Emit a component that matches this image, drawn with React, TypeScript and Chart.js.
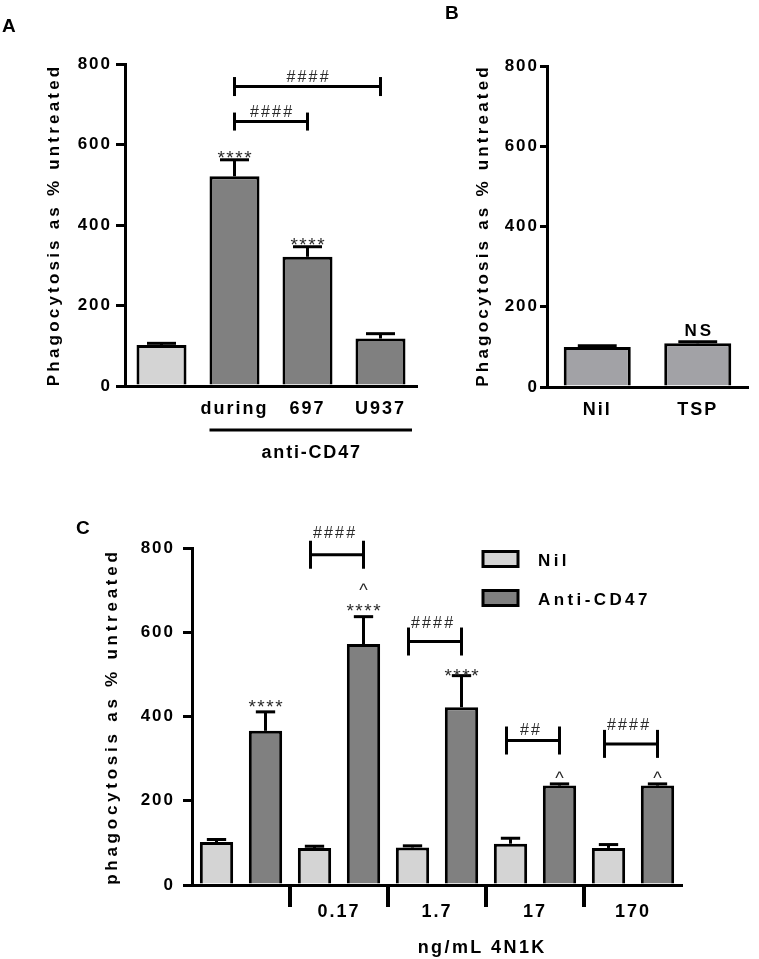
import React, { useEffect, useRef } from 'react';
import { Chart, registerables } from 'chart.js';
Chart.register(...registerables);

const FONT = '"Liberation Sans", Arial, Helvetica, sans-serif';

// ---------- data ----------
const yTickValues = [0, 200, 400, 600, 800];

const aCategories = ['', 'during', '697', 'U937'];
const aValues = [102, 521, 321, 118];
const aErrors = [4, 41, 25, 12];

const bCategories = ['Nil', 'TSP'];
const bValues = [100, 109];
const bErrors = [3, 4];

const cCategories = ['', '0.17', '1.7', '17', '170'];
const cSeriesNames = ['Nil', 'Anti-CD47'];
const cNilValues = [102, 88, 89, 98, 88];
const cNilErrors = [6, 4, 4, 13, 8];
const cAntiValues = [366, 572, 422, 236, 236];
const cAntiErrors = [45, 65, 75, 4, 4];

// ---------- annotation specs (value-space) ----------
const aStars = [{ i: 1, v: 579 }, { i: 2, v: 363 }];
const aBrackets = [
  { from: 1, to: 3, v: 744, tv: 770, half: 9.5, t: '####' },
  { from: 1, to: 2, v: 657, tv: 683, half: 9, t: '####' },
];
const cStars = [{ g: 0, v: 435 }, { g: 1, v: 661 }, { g: 2, v: 507 }];
const cCarets = [{ g: 1, v: 708 }, { g: 3, v: 261 }, { g: 4, v: 261 }];
const cBrackets = [
  { g: 1, v: 784, tv: 836, t: '####' },
  { g: 2, v: 578, tv: 622, t: '####' },
  { g: 3, v: 343, tv: 370, t: '##' },
  { g: 4, v: 335, tv: 380, t: '####' },
];

const LIGHT = '#d4d4d4';
const DARK = '#808080';
const MID = '#a2a2a6';
const INK = '#000';
const MARK = '#2a2a2a';

// glyph visual-centre ratios (fraction of font size above baseline)
const R_CAP = 0.36;
const R_STAR = 0.57;
const R_HASH = 0.34;
const R_CARET = 0.51;

function text(ctx: CanvasRenderingContext2D, s: string, x: number, yc: number, size: number, weight: string, spacing: number, ratio: number, color = INK, family = FONT, align: CanvasTextAlign = 'center') {
  ctx.save();
  ctx.font = `${weight} ${size}px ${family}`;
  (ctx as any).letterSpacing = `${spacing}px`;
  ctx.textAlign = align;
  ctx.textBaseline = 'alphabetic';
  ctx.fillStyle = color;
  const dx = align === 'center' ? spacing / 2 : 0;
  ctx.fillText(s, x + dx, yc + ratio * size);
  ctx.restore();
}

function vtitle(ctx: CanvasRenderingContext2D, s: string, x: number, yc: number, size: number, spacing: number) {
  ctx.save();
  ctx.translate(x, yc);
  ctx.rotate(-Math.PI / 2);
  ctx.font = `bold ${size}px ${FONT}`;
  (ctx as any).letterSpacing = `${spacing}px`;
  ctx.textAlign = 'center';
  ctx.textBaseline = 'middle';
  ctx.fillStyle = INK;
  ctx.fillText(s, spacing / 2, 0);
  ctx.restore();
}

function seg(ctx: CanvasRenderingContext2D, x1: number, y1: number, x2: number, y2: number, w = 3, color = INK) {
  ctx.save();
  ctx.strokeStyle = color;
  ctx.lineWidth = w;
  ctx.lineCap = 'butt';
  ctx.beginPath();
  ctx.moveTo(x1, y1);
  ctx.lineTo(x2, y2);
  ctx.stroke();
  ctx.restore();
}

function bracket(ctx: CanvasRenderingContext2D, x1: number, x2: number, y: number, half: number) {
  seg(ctx, x1, y, x2, y);
  seg(ctx, x1, y - half, x1, y + half);
  seg(ctx, x2, y - half, x2, y + half);
}

function drawErrors(chart: any, errs: number[][]) {
  const ctx = chart.ctx;
  const ys = chart.scales.y;
  errs.forEach((arr, d) => {
    const meta = chart.getDatasetMeta(d);
    meta.data.forEach((bar: any, i: number) => {
      const v = chart.data.datasets[d].data[i] as number;
      const top = ys.getPixelForValue(v + arr[i]);
      const base = ys.getPixelForValue(v);
      const half = bar.width * 0.29;
      seg(ctx, bar.x, base, bar.x, top);
      seg(ctx, bar.x - half, top, bar.x + half, top);
    });
  });
}

type Area = { left: number; right: number; top: number; bottom: number };

function makeConfig(p: {
  width: number; height: number; area: Area; labels: string[]; datasets: any[];
  tickPad: number; tickLen: number; xPad: number; draw: (c: any) => void;
}) {
  return {
    type: 'bar' as const,
    data: { labels: p.labels, datasets: p.datasets },
    options: {
      responsive: false,
      animation: false as const,
      events: [],
      layout: { padding: { left: 0, top: p.area.top, right: p.width - p.area.right, bottom: 0 } },
      plugins: { legend: { display: false }, tooltip: { enabled: false } },
      scales: {
        x: {
          offset: true,
          grid: { display: false, drawTicks: false },
          border: { display: true, color: INK, width: 3 },
          ticks: { color: INK, font: { family: FONT, size: 18, weight: 'bold' }, padding: p.xPad, maxRotation: 0, autoSkip: false },
          afterFit: (s: any) => { s.height = p.height - p.area.bottom; },
        },
        y: {
          min: 0,
          max: 800,
          afterBuildTicks: (s: any) => { s.ticks = yTickValues.map((v) => ({ value: v })); },
          grid: { display: true, drawOnChartArea: false, drawTicks: true, tickLength: p.tickLen, tickWidth: 3, tickColor: INK, color: INK, lineWidth: 3 },
          border: { display: true, color: INK, width: 3 },
          ticks: { color: INK, font: { family: FONT, size: 17, weight: 'bold' }, padding: p.tickPad },
          afterFit: (s: any) => { s.width = p.area.left; },
        },
      },
    },
    plugins: [{
      id: 'annot',
      beforeDraw: (c: any) => { (c.ctx as any).letterSpacing = '2px'; },
      afterDraw: (c: any) => { (c.ctx as any).letterSpacing = '0px'; p.draw(c); },
    }],
  };
}

// ---------- panel A ----------
const configA = () => makeConfig({
  width: 420, height: 480,
  area: { left: 125, right: 417, top: 64, bottom: 386 },
  labels: aCategories,
  tickPad: 4, tickLen: 9, xPad: 12,
  datasets: [{
    data: aValues,
    backgroundColor: aValues.map((_, i) => (i === 0 ? LIGHT : DARK)),
    borderColor: INK, borderWidth: 3,
    barPercentage: 0.685, categoryPercentage: 1,
  }],
  draw: (chart: any) => {
    const ctx = chart.ctx;
    const ys = chart.scales.y;
    drawErrors(chart, [aErrors]);
    const bars = chart.getDatasetMeta(0).data;
    aStars.forEach((s) => text(ctx, '****', bars[s.i].x, ys.getPixelForValue(s.v), 19, 'normal', 1.5, R_STAR, MARK));
    aBrackets.forEach((b) => {
      const x1 = bars[b.from].x, x2 = bars[b.to].x;
      bracket(ctx, x1, x2, ys.getPixelForValue(b.v), b.half);
      text(ctx, b.t, (x1 + x2) / 2, ys.getPixelForValue(b.tv), 16, 'normal', 2.2, R_HASH, MARK);
    });
    const gx1 = bars[1].x - bars[1].width / 2;
    const gx2 = chart.chartArea.right - 5;
    seg(ctx, gx1, 430, gx2, 430);
    text(ctx, 'anti-CD47', (gx1 + gx2) / 2, 452, 18, 'bold', 1.8, R_CAP);
    vtitle(ctx, 'Phagocytosis as % untreated', 54, 226.5, 17, 3.2);
    text(ctx, 'A', 2, 25, 19, 'bold', 0, R_CAP, INK, FONT, 'left');
  },
});

// ---------- panel B ----------
const configB = () => makeConfig({
  width: 339, height: 480,
  area: { left: 127, right: 328, top: 66, bottom: 387 },
  labels: bCategories,
  tickPad: 1, tickLen: 7, xPad: 12,
  datasets: [{
    data: bValues,
    backgroundColor: MID,
    borderColor: INK, borderWidth: 3,
    barPercentage: 0.667, categoryPercentage: 1,
  }],
  draw: (chart: any) => {
    const ctx = chart.ctx;
    const ys = chart.scales.y;
    drawErrors(chart, [bErrors]);
    const bars = chart.getDatasetMeta(0).data;
    text(ctx, 'NS', bars[1].x, ys.getPixelForValue(142), 17, 'bold', 3, R_CAP);
    vtitle(ctx, 'Phagocytosis as % untreated', 63.5, 227, 17, 3.2);
    text(ctx, 'B', 25, 12.5, 19, 'bold', 0, R_CAP, INK, FONT, 'left');
  },
});

// ---------- panel C ----------
const configC = () => makeConfig({
  width: 759, height: 469,
  area: { left: 192, right: 682, top: 58, bottom: 395 },
  labels: cCategories,
  tickPad: 8, tickLen: 9, xPad: 16,
  datasets: [
    { label: cSeriesNames[0], data: cNilValues, backgroundColor: LIGHT, borderColor: INK, borderWidth: 3, barPercentage: 0.68, categoryPercentage: 1 },
    { label: cSeriesNames[1], data: cAntiValues, backgroundColor: DARK, borderColor: INK, borderWidth: 3, barPercentage: 0.68, categoryPercentage: 1 },
  ],
  draw: (chart: any) => {
    const ctx = chart.ctx;
    const ys = chart.scales.y;
    const xs = chart.scales.x;
    drawErrors(chart, [cNilErrors, cAntiErrors]);
    const nil = chart.getDatasetMeta(0).data;
    const anti = chart.getDatasetMeta(1).data;
    cStars.forEach((s) => text(ctx, '****', anti[s.g].x, ys.getPixelForValue(s.v), 19, 'normal', 1.5, R_STAR, MARK));
    cCarets.forEach((s) => text(ctx, '^', anti[s.g].x, ys.getPixelForValue(s.v), 18, 'normal', 0, R_CARET, MARK));
    cBrackets.forEach((b) => {
      const x1 = nil[b.g].x - 4, x2 = anti[b.g].x;
      bracket(ctx, x1, x2, ys.getPixelForValue(b.v), 14);
      text(ctx, b.t, (x1 + x2) / 2 - 3, ys.getPixelForValue(b.tv), 16, 'normal', 2.2, R_HASH, MARK);
    });
    // group separators under the axis
    const bottom = chart.chartArea.bottom;
    for (let i = 0; i < cCategories.length - 1; i++) {
      const xm = (xs.getPixelForValue(i) + xs.getPixelForValue(i + 1)) / 2;
      seg(ctx, xm, bottom, xm, bottom + 22, 4);
    }
    text(ctx, 'ng/mL 4N1K', 481, 456.7, 18, 'bold', 2.4, R_CAP);
    // legend
    const legendY = [69, 108];
    cSeriesNames.forEach((name, i) => {
      ctx.save();
      ctx.fillStyle = i === 0 ? LIGHT : DARK;
      ctx.fillRect(483, legendY[i] - 7.5, 35, 15);
      ctx.strokeStyle = INK;
      ctx.lineWidth = 3;
      ctx.strokeRect(483, legendY[i] - 7.5, 35, 15);
      ctx.restore();
      text(ctx, name, 538, legendY[i] + 1, 17, 'bold', 3.4, R_CAP, INK, FONT, 'left');
    });
    vtitle(ctx, 'phagocytosis as % untreated', 112.5, 228.5, 17, 3.75);
    text(ctx, 'C', 76, 37, 19, 'bold', 0, R_CAP, INK, FONT, 'left');
  },
});

function Panel({ left, top, width, height, make }: { left: number; top: number; width: number; height: number; make: () => any }) {
  const ref = useRef<HTMLCanvasElement>(null);
  useEffect(() => {
    const chart = new Chart(ref.current as HTMLCanvasElement, make());
    return () => chart.destroy();
  }, [make]);
  return (
    <canvas
      ref={ref}
      width={width}
      height={height}
      style={{ position: 'absolute', left, top, width, height, display: 'block' }}
    />
  );
}

export default function App() {
  return (
    <div style={{ position: 'absolute', left: 0, top: 0, width: 759, height: 959, background: '#fff', overflow: 'hidden' }}>
      <Panel left={0} top={0} width={420} height={480} make={configA} />
      <Panel left={420} top={0} width={339} height={480} make={configB} />
      <Panel left={0} top={490} width={759} height={469} make={configC} />
    </div>
  );
}
